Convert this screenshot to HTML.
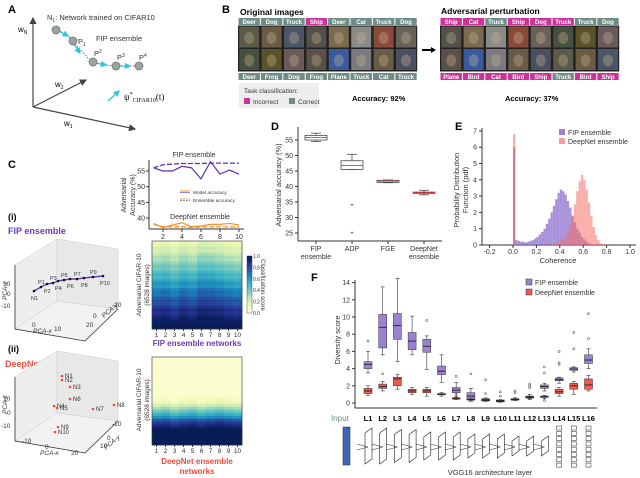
<!DOCTYPE html>
<html><head><meta charset="utf-8"><style>
body{margin:0;background:#fff}
svg{display:block;font-family:"Liberation Sans",sans-serif}
</style></head><body>
<svg id="fig" width="640" height="478" viewBox="0 0 640 478" xmlns="http://www.w3.org/2000/svg">
<defs><marker id="ah" markerWidth="6" markerHeight="6" refX="5" refY="3" orient="auto"><path d="M0,0 L6,3 L0,6 z" fill="#444"/></marker>
<marker id="ahc" markerWidth="5" markerHeight="5" refX="4" refY="2.5" orient="auto"><path d="M0,0 L5,2.5 L0,5 z" fill="#2cc6d6"/></marker></defs>
<!-- Panel A -->
<g>
<text x="8" y="13" font-size="11" font-weight="bold">A</text>
<line x1="33" y1="107" x2="33" y2="18" stroke="#444" stroke-width="1.2" marker-end="url(#ah)"/>
<line x1="33" y1="107" x2="135" y2="129" stroke="#444" stroke-width="1.2" marker-end="url(#ah)"/>
<line x1="33" y1="107" x2="86" y2="80" stroke="#444" stroke-width="1.2" marker-end="url(#ah)"/>
<text x="18" y="32" font-size="8">w<tspan font-size="5" dy="2">N</tspan></text>
<text x="55" y="87" font-size="8">w<tspan font-size="5" dy="2">2</tspan></text>
<text x="64" y="126" font-size="8">w<tspan font-size="5" dy="2">1</tspan></text>
<path d="M56,29 L71,38 M75,44 L90,60 M95,63 L113,66 M118,66 L137,66" stroke="#7d55c7" stroke-dasharray="1.5,1.5" fill="none"/>
<line x1="59" y1="31" x2="68" y2="36" stroke="#2cc6d6" stroke-width="1.3" marker-end="url(#ahc)"/>
<line x1="74" y1="44" x2="80" y2="53" stroke="#2cc6d6" stroke-width="1.3" marker-end="url(#ahc)"/>
<line x1="96" y1="63" x2="106" y2="65" stroke="#2cc6d6" stroke-width="1.3" marker-end="url(#ahc)"/>
<line x1="119" y1="66" x2="130" y2="66" stroke="#2cc6d6" stroke-width="1.3" marker-end="url(#ahc)"/>
<g fill="#9aa3a0" stroke="#6a716e" stroke-width="0.7">
<circle cx="56" cy="30" r="4"/><circle cx="73" cy="41" r="4"/><circle cx="93" cy="62" r="4"/><circle cx="116" cy="66" r="4"/><circle cx="139" cy="66" r="4"/></g>
<text x="47" y="20" font-size="7.5" fill="#333">N<tspan font-size="5" dy="2">1</tspan><tspan dy="-2">:  Network trained on CIFAR10</tspan></text>
<text x="78" y="44" font-size="7.5" fill="#333">P<tspan font-size="5" dy="2">1</tspan></text>
<text x="94" y="56" font-size="7.5" fill="#333">P<tspan font-size="5" dy="-3">2</tspan></text>
<text x="117" y="60" font-size="7.5" fill="#333">P<tspan font-size="5" dy="-3">3</tspan></text>
<text x="139" y="60" font-size="7.5" fill="#333">P<tspan font-size="5" dy="-3">4</tspan></text>
<text x="96" y="41" font-size="7.5" fill="#333">FIP ensemble</text>
<line x1="108" y1="101" x2="119" y2="91" stroke="#2cc6d6" stroke-width="1.3" marker-end="url(#ahc)"/>
<text x="124" y="100" font-size="9" font-family="Liberation Serif,serif">ψ<tspan font-size="6" dy="-4">*</tspan><tspan font-size="6" dy="6">CIFAR10</tspan><tspan dy="-2">(t)</tspan></text>
</g>
<!-- Panel B -->
<g id="pb">
<text x="222" y="13" font-size="11" font-weight="bold">B</text>
<text x="240" y="15" font-size="8.5" font-weight="bold">Original images</text>
<text x="441" y="14" font-size="8.5" font-weight="bold">Adversarial perturbation</text>
<line x1="422" y1="50" x2="432" y2="50" stroke="#000" stroke-width="2"/>
<path d="M431,47 L436,50 L431,53z" fill="#000"/>
<rect x="239" y="83" width="80" height="25" fill="#eee"/>
<text x="244" y="93" font-size="6.5" fill="#333">Task classification:</text>
<rect x="244" y="98" width="6" height="6" fill="#cc3399"/><text x="253" y="104" font-size="6.5" fill="#333">Incorrect</text>
<rect x="289" y="98" width="6" height="6" fill="#6f8c87"/><text x="298" y="104" font-size="6.5" fill="#333">Correct</text>
<text x="352" y="101" font-size="7.5" font-weight="bold">Accuracy:  92%</text>
<text x="505" y="101" font-size="7.5" font-weight="bold">Accuracy: 37%</text>
</g>
<!-- Panel D -->
<g id="pd">
<text x="271" y="130" font-size="11" font-weight="bold">D</text>
<text transform="translate(281,185) rotate(-90)" font-size="7.5" text-anchor="middle" fill="#333">Adversarial accuracy (%)</text>
</g>
<!-- Panel E -->
<g id="pe">
<text x="455" y="130" font-size="11" font-weight="bold">E</text>
<text transform="translate(459,190) rotate(-90)" font-size="7.5" text-anchor="middle" fill="#333"><tspan x="0" dy="0">Probability Distribution</tspan><tspan x="0" dy="9">Function (pdf)</tspan></text>
<text x="558" y="263" font-size="7.5" text-anchor="middle" fill="#333">Coherence</text>
<rect x="559" y="129" width="6" height="6" fill="#9b82d2"/><text x="568" y="135" font-size="7" fill="#333">FIP ensemble</text>
<rect x="559" y="138" width="6" height="6" fill="#f4a09a"/><text x="568" y="144" font-size="7" fill="#333">DeepNet ensemble</text>
</g>
<!-- Panel F -->
<g id="pf">
<text x="311" y="281" font-size="11" font-weight="bold">F</text>
<text transform="translate(340,340) rotate(-90)" font-size="7.5" text-anchor="middle" fill="#333">Diversity score</text>
<rect x="526" y="279" width="6" height="6" fill="#9b82d2" stroke="#333" stroke-width="0.5"/><text x="535" y="285" font-size="7" fill="#333">FIP ensemble</text>
<rect x="526" y="289" width="6" height="6" fill="#f05a4f" stroke="#333" stroke-width="0.5"/><text x="535" y="295" font-size="7" fill="#333">DeepNet ensemble</text>
<text x="331" y="421" font-size="8" fill="#6f8c87">Input</text>
<text x="490" y="475" font-size="7.5" text-anchor="middle" fill="#333">VGG16 architecture layer</text>
</g>
<!-- Panel C -->
<g id="pc">
<text x="8" y="168" font-size="11" font-weight="bold">C</text>
<text x="8" y="220" font-size="9" font-weight="bold">(i)</text>
<text x="8" y="234" font-size="9" font-weight="bold" fill="#6a3cb4">FIP ensemble</text>
<text x="8" y="352" font-size="9" font-weight="bold">(ii)</text>
<text x="5" y="367" font-size="9" font-weight="bold" fill="#f04a3c">DeepNet</text>
<text transform="translate(126,195) rotate(-90)" font-size="7" text-anchor="middle" fill="#333"><tspan x="0" dy="0">Adversarial</tspan><tspan x="0" dy="9">Accuracy (%)</tspan></text>
<text x="194" y="157" font-size="7" text-anchor="middle" fill="#333">FIP ensemble</text>
<text x="200" y="219" font-size="7" text-anchor="middle" fill="#333">DeepNet ensemble</text>
<line x1="180" y1="191" x2="190" y2="191" stroke="#f78f2a"/><line x1="180" y1="192.5" x2="190" y2="192.5" stroke="#9b82d2"/>
<text x="193" y="194" font-size="4.8" fill="#333">Model accuracy</text>
<line x1="180" y1="199" x2="190" y2="199" stroke="#f78f2a" stroke-dasharray="2,1"/><line x1="180" y1="200.5" x2="190" y2="200.5" stroke="#9b82d2" stroke-dasharray="2,1"/>
<text x="193" y="202" font-size="4.8" fill="#333">Ensemble accuracy</text>
<text transform="translate(141,285) rotate(-90)" font-size="6.5" text-anchor="middle" fill="#333"><tspan x="0" dy="0">Adversarial CIFAR-10</tspan><tspan x="0" dy="8">(6528 images)</tspan></text>
<text transform="translate(141,400) rotate(-90)" font-size="6.5" text-anchor="middle" fill="#333"><tspan x="0" dy="0">Adversarial CIFAR-10</tspan><tspan x="0" dy="8">(6528 images)</tspan></text>
<text x="197" y="346" font-size="8" font-weight="bold" text-anchor="middle" fill="#6a3cb4">FIP ensemble networks</text>
<text x="197" y="464" font-size="8" font-weight="bold" text-anchor="middle" fill="#f04a3c">DeepNet ensemble</text>
<text x="197" y="474" font-size="8" font-weight="bold" text-anchor="middle" fill="#f04a3c">networks</text>
<text transform="translate(261,285) rotate(90)" font-size="6" text-anchor="middle" fill="#333">Classification score</text>
</g>
</svg>
<script>
const NS='http://www.w3.org/2000/svg';
const svg=document.getElementById('fig');
function mk(tag,attrs,name,parent,txt){const e=document.createElementNS(NS,tag);for(const k in attrs)e.setAttribute(k,attrs[k]);


if(txt!==undefined)e.textContent=txt;(parent||svg).appendChild(e);return e;}

/* ---------- Panel B data ---------- */
const origTop=['Deer','Dog','Truck','Ship','Deer','Car','Truck','Dog'];
const origTopOk=[1,1,1,0,1,1,1,1];
const origBot=['Deer','Frog','Dog','Frog','Plane','Truck','Cat','Truck'];
const origBotOk=[1,1,1,1,1,1,1,1];
const advTop=['Ship','Cat','Truck','Ship','Dog','Truck','Truck','Dog'];
const advTopOk=[0,0,1,0,0,0,1,1];
const advBot=['Plane','Bird','Cat','Bird','Ship','Truck','Bird','Ship'];
const advBotOk=[0,0,0,0,0,1,0,0];
const thumbColors=['#5a5a48','#6b5a44','#4a5568','#55504a','#7a6a50','#8a8a88','#8a4a3a','#6a6258','#46503e','#5a5228','#6a5a5a','#5a5048','#3a5aa0','#7a7a80','#6a5a48','#4a5060'];
function grid(x0,top,topOk,bot,botOk,shift){const pb=document.getElementById('pb');const w=22.4;
 mk('rect',{x:x0,y:25.5,width:w*8,height:46,fill:'#222'},'image-grid',pb);
 for(let i=0;i<8;i++){
  mk('rect',{x:x0+i*w+0.5,y:18,width:w-1,height:7,fill:topOk[i]?'#6f8c87':'#cc3399'},'label-tag',pb);
  mk('text',{x:x0+i*w+w/2,y:24,'font-size':6,'font-weight':'bold',fill:'#fff','text-anchor':'middle'},'label-text',pb,top[i]);
  mk('rect',{x:x0+i*w+0.5,y:73,width:w-1,height:7,fill:botOk[i]?'#6f8c87':'#cc3399'},'label-tag',pb);
  mk('text',{x:x0+i*w+w/2,y:79,'font-size':6,'font-weight':'bold',fill:'#fff','text-anchor':'middle'},'label-text',pb,bot[i]);
  for(let r=0;r<2;r++){mk('rect',{x:x0+i*w+1.2,y:26.5+r*22.5,width:w-2.4,height:21,fill:thumbColors[(i+r*8+shift)%16]},'thumbnail',pb);
   mk('ellipse',{cx:x0+i*w+w/2,cy:38+r*22.5,rx:5,ry:6,fill:'rgba(200,180,150,0.35)'},'thumbnail-subject',pb);}
 }}
grid(238,origTop,origTopOk,origBot,origBotOk,0);
grid(440,advTop,advTopOk,advBot,advBotOk,3);

/* ---------- Panel D box plot ---------- */
const dCats=['FIP|ensemble','ADP','FGE','DeepNet|ensemble'];
const dQ1=[55.0,45.5,41.3,37.8];
const dMed=[55.8,46.8,41.7,38.0];
const dQ3=[56.5,48.3,42.0,38.2];
const dLo=[54.5,45.5,41.2,37.3];
const dHi=[57.2,50.4,42.1,38.8];
const dOut=[[],[34,25],[],[]];
const dTicks=[25,30,35,40,45,50,55];
(function(){const g=document.getElementById('pd');
 const y=v=>140-(v-55)*3.1, x=i=>316+i*36;
 mk('line',{x1:298,y1:127,x2:298,y2:241,stroke:'#333'},'d-y-axis',g);
 mk('line',{x1:298,y1:241,x2:442,y2:241,stroke:'#333'},'d-x-axis',g);
 dTicks.forEach(t=>{mk('line',{x1:295,y1:y(t),x2:298,y2:y(t),stroke:'#333'},'d-y-tick',g);
  mk('text',{x:293,y:y(t)+2.5,'font-size':7,'text-anchor':'end',fill:'#333'},'d-y-tick-label',g,t);});
 dCats.forEach((c,i)=>{const xc=x(i);
  mk('line',{x1:xc,y1:241,x2:xc,y2:244,stroke:'#333'},'d-x-tick',g);
  c.split('|').forEach((s,k)=>mk('text',{x:xc,y:251+k*8,'font-size':7,'text-anchor':'middle',fill:'#333'},'d-x-tick-label',g,s));
  mk('line',{x1:xc,y1:y(dLo[i]),x2:xc,y2:y(dHi[i]),stroke:'#333','stroke-width':0.7},'d-whisker',g);
  mk('line',{x1:xc-5,y1:y(dLo[i]),x2:xc+5,y2:y(dLo[i]),stroke:'#333','stroke-width':0.7},'d-cap',g);
  mk('line',{x1:xc-5,y1:y(dHi[i]),x2:xc+5,y2:y(dHi[i]),stroke:'#333','stroke-width':0.7},'d-cap',g);
  mk('rect',{x:xc-11,y:y(dQ3[i]),width:22,height:Math.max(1,y(dQ1[i])-y(dQ3[i])),fill:'#fff',stroke:'#333','stroke-width':0.7},'d-box',g);
  mk('line',{x1:xc-11,y1:y(dMed[i]),x2:xc+11,y2:y(dMed[i]),stroke:'#e8332a','stroke-width':0.9},'d-median',g);
  dOut[i].forEach(o=>mk('text',{x:xc,y:y(o)+2,'font-size':6,'text-anchor':'middle',fill:'#333'},'d-outlier',g,'+'));
 });})();

/* ---------- Panel E histogram ---------- */
const eBinWidth=0.02;
const eFip=[6.0,0.3,0.25,0.2,0.2,0.15,0.2,0.25,0.3,0.4,0.5,0.65,0.8,1.0,1.3,1.6,2.0,2.4,2.8,3.2,3.4,3.3,3.1,2.7,2.3,1.8,1.4,1.0,0.75,0.5,0.35,0.2,0.1,0.05,0.02,0,0,0,0,0];
const eDeep=[6.8,0,0,0,0,0,0,0,0,0,0,0,0,0,0,0,0.02,0.05,0.1,0.15,0.2,0.35,0.5,0.8,1.2,1.8,2.5,3.3,3.9,4.3,4.0,3.4,2.6,1.8,1.1,0.6,0.3,0.1,0.05,0.02];
const eXTicks=[-0.2,0.0,0.2,0.4,0.6,0.8,1.0];
const eYTicks=[0,1,2,3,4,5,6,7];
(function(){const g=document.getElementById('pe');
 const x=c=>513+c*117, y=p=>245-p*16.3;
 mk('line',{x1:482,y1:128,x2:482,y2:245,stroke:'#333'},'e-y-axis',g);
 mk('line',{x1:482,y1:245,x2:636,y2:245,stroke:'#333'},'e-x-axis',g);
 eYTicks.forEach(t=>{mk('line',{x1:479,y1:y(t),x2:482,y2:y(t),stroke:'#333'},'e-y-tick',g);
  mk('text',{x:477,y:y(t)+2.5,'font-size':7,'text-anchor':'end',fill:'#333'},'e-y-tick-label',g,t);});
 eXTicks.forEach(t=>{mk('line',{x1:x(t),y1:245,x2:x(t),y2:248,stroke:'#333'},'e-x-tick',g);
  mk('text',{x:x(t),y:254,'font-size':7,'text-anchor':'middle',fill:'#333'},'e-x-tick-label',g,t.toFixed(1));});
 eFip.forEach((v,i)=>{if(v>0)mk('rect',{x:x(i*eBinWidth),y:y(v),width:x(eBinWidth)-x(0),height:245-y(v),fill:'rgba(140,110,205,0.75)'},'e-bar-fip',g);});
 eDeep.forEach((v,i)=>{if(v>0)mk('rect',{x:x(i*eBinWidth),y:y(v),width:x(eBinWidth)-x(0),height:245-y(v),fill:'rgba(245,110,100,0.55)'},'e-bar-deepnet',g);});
})();

/* ---------- Panel F box plots ---------- */
const fLayers=['L1','L2','L3','L4','L5','L6','L7','L8','L9','L10','L11','L12','L13','L14','L15','L16'];
const fipQ1=[4.0,6.4,7.4,6.2,5.9,3.3,1.2,0.4,0.3,0.2,0.35,0.6,1.7,2.6,3.8,4.6];
const fipMed=[4.5,8.8,9.0,7.2,6.6,3.7,1.5,0.8,0.4,0.3,0.45,0.7,1.9,2.7,3.95,5.0];
const fipQ3=[4.8,10.3,10.4,8.2,7.4,4.3,1.8,1.2,0.5,0.35,0.5,0.8,2.1,2.9,4.1,5.6];
const fipLo=[3.5,5.6,4.8,5.6,3.9,2.4,0.7,0.2,0.2,0.1,0.3,0.4,1.4,2.3,3.6,4.0];
const fipHi=[6.0,13.5,14.5,10.1,7.8,5.6,2.4,1.7,0.6,0.4,0.6,1.0,2.3,3.0,4.2,6.3];
const fipOut=[[7.2],[],[],[],[9.6],[],[3.1],[3.4],[1.1,2.7],[0.8,1.3],[1.2,1.4],[1.8,2.0,2.2],[3.5,4.2],[4.5,4.7,6.0],[6.3,8.2],[7.5,10.4]];
const dnQ1=[1.1,1.7,2.0,1.2,1.2,0.95,0.45,0.35,0.25,0.15,0.35,0.6,0.65,1.1,1.6,1.6];
const dnMed=[1.4,1.9,2.8,1.4,1.4,1.0,0.55,0.4,0.3,0.2,0.4,0.65,0.75,1.3,2.0,2.1];
const dnQ3=[1.7,2.2,3.0,1.6,1.6,1.1,0.6,0.45,0.35,0.25,0.45,0.7,0.8,1.6,2.3,2.8];
const dnLo=[0.9,1.4,1.6,1.0,0.8,0.8,0.4,0.3,0.2,0.1,0.3,0.5,0.5,0.8,1.0,1.4];
const dnHi=[2.0,2.5,3.3,1.8,1.8,1.2,0.7,0.5,0.4,0.3,0.5,0.8,0.9,1.8,2.5,3.2];
const dnOut=[[],[3.4],[],[],[],[],[1.0],[],[],[],[],[],[0.3],[],[],[]];
const fTicks=[0,2,4,6,8,10,12,14];
(function(){const g=document.getElementById('pf');
 const y=v=>403-v*8.6, x=i=>368+i*14.7;
 mk('line',{x1:355,y1:280,x2:355,y2:408,stroke:'#333'},'f-y-axis',g);
 mk('line',{x1:355,y1:408,x2:597,y2:408,stroke:'#333'},'f-x-axis',g);
 fTicks.forEach(t=>{mk('line',{x1:352,y1:y(t),x2:355,y2:y(t),stroke:'#333'},'f-y-tick',g);
  mk('text',{x:350,y:y(t)+2.5,'font-size':7,'text-anchor':'end',fill:'#333'},'f-y-tick-label',g,t);});
 function box(xc,q1,med,q3,lo,hi,out,col){
  mk('line',{x1:xc,y1:y(lo),x2:xc,y2:y(hi),stroke:'#333','stroke-width':0.6},'f-whisker',g);
  mk('line',{x1:xc-2,y1:y(lo),x2:xc+2,y2:y(lo),stroke:'#333','stroke-width':0.6},'f-cap',g);
  mk('line',{x1:xc-2,y1:y(hi),x2:xc+2,y2:y(hi),stroke:'#333','stroke-width':0.6},'f-cap',g);
  mk('rect',{x:xc-4,y:y(q3),width:8,height:Math.max(1,y(q1)-y(q3)),fill:col,stroke:'#333','stroke-width':0.5},'f-box',g);
  mk('line',{x1:xc-4,y1:y(med),x2:xc+4,y2:y(med),stroke:'#222','stroke-width':0.9},'f-median',g);
  out.forEach(o=>mk('circle',{cx:xc,cy:y(o),r:1,fill:'none',stroke:'#666','stroke-width':0.6},'f-outlier',g));}
 fLayers.forEach((L,i)=>{
  box(x(i),fipQ1[i],fipMed[i],fipQ3[i],fipLo[i],fipHi[i],fipOut[i],'#9b82d2');
  box(x(i),dnQ1[i],dnMed[i],dnQ3[i],dnLo[i],dnHi[i],dnOut[i],'#f05a4f');
  mk('text',{x:x(i),y:421,'font-size':7.5,'font-weight':'bold','text-anchor':'middle'},'f-layer-label',g,L);
 });
 // VGG diagram
 mk('rect',{x:343,y:427,width:7,height:38,fill:'#3b68b8',stroke:'#222','stroke-width':0.5},'vgg-input-image',g);
 for(let i=0;i<13;i++){const xc=x(i)-3,h=i<2?36:(i<4?33:(i<7?28:(i<10?24:20)));const top=446-h/2;
  mk('path',{d:`M${xc},${top+5} L${xc+7},${top} L${xc+7},${top+h-5} L${xc},${top+h} Z`,fill:'#fff',stroke:'#222','stroke-width':0.6},'vgg-conv-layer',g);
  mk('path',{d:`M${xc-8},444 L${xc+3},447 L${xc-8},450`,fill:'none',stroke:'#222','stroke-width':0.5},'vgg-kernel',g);}
 for(let i=13;i<16;i++){for(let k=0;k<8;k++)mk('rect',{x:x(i)-2.5,y:426+k*5.3,width:5,height:4,fill:'#fff',stroke:'#222','stroke-width':0.5},'vgg-fc-unit',g);}
})();

/* ---------- Panel C line chart ---------- */
const cX=[1,2,3,4,5,6,7,8,9,10];
const fipModel=[56,55,55,56.5,56,52.5,58,54,55.3,54];
const fipEns=[56,57,57.2,57.4,57.4,57.4,57.5,57.5,57.5,57.5];
const dnModel=[38.3,37,37.8,38.5,37.3,37.5,38,38,38.3,37.8];
const dnEns=[38,37.3,37.2,37.3,37,37.2,37.2,37.2,37.2,37.2];
const cXTicks=[2,4,6,8,10];
const cYTicks=[40,45,50,55];
(function(){const g=document.getElementById('pc');
 const x=v=>153.5+(v-1)*9.5, y=v=>171-(v-55)*3.14;
 mk('line',{x1:149,y1:160,x2:149,y2:229,stroke:'#333'},'c-y-axis',g);
 mk('line',{x1:149,y1:229,x2:244,y2:229,stroke:'#333'},'c-x-axis',g);
 cYTicks.forEach(t=>{mk('line',{x1:146,y1:y(t),x2:149,y2:y(t),stroke:'#333'},'c-y-tick',g);
  mk('text',{x:145,y:y(t)+2.5,'font-size':7,'text-anchor':'end',fill:'#333'},'c-y-tick-label',g,t);});
 cXTicks.forEach(t=>{mk('line',{x1:x(t),y1:229,x2:x(t),y2:232,stroke:'#333'},'c-x-tick',g);
  mk('text',{x:x(t),y:239,'font-size':7,'text-anchor':'middle',fill:'#333'},'c-x-tick-label',g,t);});
 const pts=a=>a.map((v,i)=>x(cX[i])+','+y(v)).join(' ');
 mk('polyline',{points:pts(fipModel),fill:'none',stroke:'#5b35b0','stroke-width':1.2},'fip-model-line',g);
 mk('polyline',{points:pts(fipEns),fill:'none',stroke:'#5b35b0','stroke-width':1.3,'stroke-dasharray':'5,2'},'fip-ensemble-line',g);
 mk('polyline',{points:pts(dnModel),fill:'none',stroke:'#f78f2a','stroke-width':1.2},'deepnet-model-line',g);
 mk('polyline',{points:pts(dnEns),fill:'none',stroke:'#f78f2a','stroke-width':1.3,'stroke-dasharray':'5,2'},'deepnet-ensemble-line',g);
})();

/* ---------- Panel C heatmaps ---------- */
const hmCols=[1,2,3,4,5,6,7,8,9,10];
const hm1Rows=[0.12,0.15,0.2,0.18,0.25,0.3,0.28,0.35,0.4,0.38,0.45,0.5,0.48,0.55,0.6,0.58,0.65,0.7,0.68,0.75,0.8,0.78,0.85,0.9,0.88,0.92,0.96,0.98,1,1];
const hm1ColAdj=[0,0.02,-0.02,0.03,0,0.06,0.05,0.03,0,-0.02];
const hm2Rows=[0.03,0.03,0.03,0.03,0.03,0.03,0.03,0.03,0.03,0.03,0.03,0.03,0.03,0.04,0.06,0.1,0.2,0.3,0.4,0.5,0.6,0.75,0.85,0.92,1,1,1,1,1,1];
const hm2ColAdj=[0,0.03,-0.02,0.02,0.04,0,0.03,0.05,0.02,0];
const cbTicks=[0.0,0.2,0.4,0.6,0.8,1.0];
const cmap=[[255,255,217],[237,248,177],[199,233,180],[127,205,187],[65,182,196],[29,145,192],[34,94,168],[37,52,148],[8,29,88]];
function col(t){t=Math.max(0,Math.min(1,t))*8;const i=Math.min(7,Math.floor(t)),f=t-i;const a=cmap[i],b=cmap[i+1];
 return `rgb(${a.map((c,k)=>Math.round(c+(b[k]-c)*f)).join(',')})`;}
(function(){const g=document.getElementById('pc');
 function hm(y0,rows,adj){const W=90,H=88,cw=W/hmCols.length,rh=H/rows.length;
  rows.forEach((rv,r)=>hmCols.forEach((c,j)=>{mk('rect',{x:152+j*cw,y:y0+r*rh,width:cw+0.3,height:rh+0.3,fill:col(rv+adj[j]*(rv>0.05&&rv<0.98?1:0))},'heatmap-cell',g);}));
  mk('rect',{x:152,y:y0,width:W,height:H,fill:'none',stroke:'#333','stroke-width':0.6},'heatmap-frame',g);
  hmCols.forEach((c,j)=>{mk('line',{x1:152+(j+0.5)*cw,y1:y0+H,x2:152+(j+0.5)*cw,y2:y0+H+2,stroke:'#333'},'heatmap-x-tick',g);
   mk('text',{x:152+(j+0.5)*cw,y:y0+H+8,'font-size':6.5,'text-anchor':'middle',fill:'#333'},'heatmap-x-tick-label',g,c);});}
 hm(241,hm1Rows,hm1ColAdj);
 hm(357,hm2Rows,hm2ColAdj);
 for(let k=0;k<40;k++)mk('rect',{x:247,y:256+k*57/40,width:5,height:57/40+0.3,fill:col(1-k/39)},'colorbar-cell',g);
 mk('rect',{x:247,y:256,width:5,height:57,fill:'none',stroke:'#333','stroke-width':0.4},'colorbar',g);
 cbTicks.forEach(t=>mk('text',{x:253,y:313-t*57+2,'font-size':5,fill:'#333'},'colorbar-tick-label',g,t.toFixed(1)));
})();

/* ---------- Panel C 3D plots ---------- */
const fipPtsX=[34,41,47,53,58,64,70,77,84,93,103];
const fipPtsY=[291,287,284,283,281,280,279,279,278,277,276];
const fipPtNames=['N1','P1','P2','P3','P4','P5','P6','P7','P8','P9','P10'];
const dnPtsX=[62,62,70,70,54,57,93,114,58,55];
const dnPtsY=[376,380,387,399,406,408,409,405,427,432];
const dnNames=['N1','N2','N3','N6','N4','N5','N7','N8','N9','N10'];
(function(){const g=document.getElementById('pc');
 function box3d(y0){
  mk('path',{d:`M15,${y0} L57,${y0-26} L57,${y0+36} L15,${y0+64} Z`,fill:'#eee',stroke:'#ccc','stroke-width':0.5},'3d-back-left-wall',g);
  mk('path',{d:`M57,${y0-26} L118,${y0-16} L118,${y0+44} L57,${y0+36} Z`,fill:'#e8e8e8',stroke:'#ccc','stroke-width':0.5},'3d-back-right-wall',g);
  mk('path',{d:`M15,${y0+64} L57,${y0+36} L118,${y0+44} L85,${y0+76} Z`,fill:'#f2f2f2',stroke:'#ccc','stroke-width':0.5},'3d-floor',g);
  mk('path',{d:`M15,${y0} L15,${y0+64} L85,${y0+76} L118,${y0+44}`,fill:'none',stroke:'#333','stroke-width':0.8},'3d-axes',g);}
 box3d(265); box3d(377);
 const lab=(x,y,t)=>mk('text',{x:x,y:y,'font-size':6.5,fill:'#333'},'3d-tick-label',g,t);
 lab(3,286,'10');lab(7,296,'0');lab(1,308,'-10');lab(86,327,'20');lab(93,318,'0');lab(112,307,'-20');lab(32,327,'0');lab(54,331,'10');
 mk('text',{transform:'translate(7,300) rotate(-90)','font-size':6.5,fill:'#333','font-style':'italic'},'pca-z-label',g,'PCA-z');
 mk('text',{transform:'translate(104,318) rotate(-40)','font-size':6.5,fill:'#333','font-style':'italic'},'pca-y-label',g,'PCA-y');
 lab(3,401,'10');lab(7,415,'0');lab(1,428,'-10');lab(22,443,'-10');lab(45,449,'0');lab(71,455,'20');lab(100,448,'10');lab(107,440,'0');lab(112,426,'-10');
 mk('text',{x:33,y:333,'font-size':6.5,fill:'#333','font-style':'italic'},'pca-x-label',g,'PCA-x');
 mk('text',{x:40,y:455,'font-size':6.5,fill:'#333','font-style':'italic'},'pca-x-label',g,'PCA-x');
 mk('text',{transform:'translate(7,414) rotate(-90)','font-size':6.5,fill:'#333','font-style':'italic'},'pca-z-label',g,'PCA-z');
 mk('text',{transform:'translate(106,450) rotate(-40)','font-size':6.5,fill:'#333','font-style':'italic'},'pca-y-label',g,'PCA-y');
 mk('polyline',{points:fipPtsX.map((v,i)=>v+','+fipPtsY[i]).join(' '),fill:'none',stroke:'#6a3cb4','stroke-width':1.4},'fip-trajectory',g);
 fipPtsX.forEach((v,i)=>{mk('circle',{cx:v,cy:fipPtsY[i],r:1.3,fill:'#111'},'fip-point',g);
  const n=fipPtNames[i];mk('text',{x:v-3,y:fipPtsY[i]+(i%2?-3:9),'font-size':5.5,fill:'#333'},'fip-point-label',g,n[0]+n.slice(1));});
 dnPtsX.forEach((v,i)=>{mk('circle',{cx:v,cy:dnPtsY[i],r:1.3,fill:'#f04a3c'},'deepnet-point',g);
  mk('text',{x:v+3,y:dnPtsY[i]+2,'font-size':6,fill:'#333'},'deepnet-point-label',g,dnNames[i]);});
})();
</script>
</body></html>
